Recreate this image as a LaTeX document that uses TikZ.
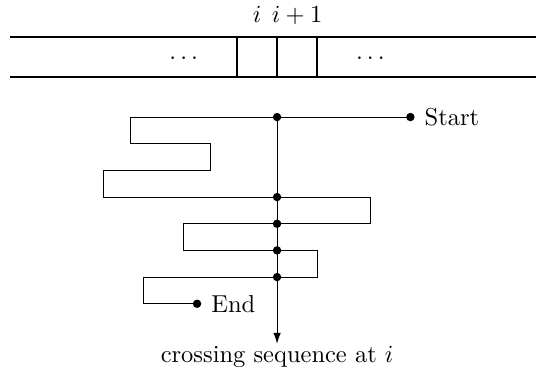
\documentclass[tikz,border=0pt]{standalone}
\usetikzlibrary{arrows.meta}
\begin{document}
\begin{tikzpicture}[x=0.4cm,y=0.4cm,
  txt/.style={scale=1.045},
  tapeline/.style={line width=0.8pt},
  dotnode/.style={circle,fill=black,inner sep=0pt,minimum size=3.6pt},
  pathline/.style={line width=0.4pt},
  lbl/.style={txt,anchor=base,inner sep=0pt}]
\useasboundingbox (-10.39,-9.41) rectangle (9.71,4.39);
% tape
\coordinate (tl) at (-10,3);
\coordinate (tr) at (10,3);
\coordinate (bl) at (-10,1.5);
\coordinate (br) at (10,1.5);
\draw[tapeline] (tl) -- (tr);
\draw[tapeline] (bl) -- (br);
\coordinate (v1t) at (-1.5,3); \coordinate (v1b) at (-1.5,1.5);
\coordinate (v2t) at (0,3);    \coordinate (v2b) at (0,1.5);
\coordinate (v3t) at (1.5,3);  \coordinate (v3b) at (1.5,1.5);
\draw[tapeline] (v1t) -- (v1b);
\draw[tapeline] (v2t) -- (v2b);
\draw[tapeline] (v3t) -- (v3b);
\node[txt] (dl) at (-3.5,2.2) {$\dots$};
\node[txt] (dr) at (3.5,2.2) {$\dots$};
\node[lbl] (li) at (-0.75,3.56) {$i$};
\node[lbl] (li1) at (0.75,3.56) {$i+1$};
% crossing points
\coordinate (s) at (5,0);
\coordinate (x0) at (0,0);
\coordinate (x1) at (0,-3);
\coordinate (x2) at (0,-4);
\coordinate (x3) at (0,-5);
\coordinate (x4) at (0,-6);
\coordinate (e) at (-3,-7);
\coordinate (arr) at (0,-8.5);
% path
\draw[pathline] (s) -- (-5.5,0) -- (-5.5,-1) -- (-2.5,-1) -- (-2.5,-2) -- (-6.5,-2) -- (-6.5,-3)
  -- (3.5,-3) -- (3.5,-4) -- (-3.5,-4) -- (-3.5,-5) -- (1.5,-5) -- (1.5,-6) -- (-5,-6) -- (-5,-7) -- (e);
\draw[pathline,-{Latex[length=4.6pt,width=3.2pt]}] (x0) -- (arr);
% dots
\node[dotnode] (ds) at (s) {};
\node[dotnode] (d0) at (x0) {};
\node[dotnode] (d1) at (x1) {};
\node[dotnode] (d2) at (x2) {};
\node[dotnode] (d3) at (x3) {};
\node[dotnode] (d4) at (x4) {};
\node[dotnode] (de) at (e) {};
\node[txt,anchor=west,xshift=2.3pt] (st) at (s) {Start};
\node[txt,anchor=west,xshift=2.3pt] (en) at (e) {End};
\node[lbl] (cs) at (0,-9.22) {crossing sequence at $i$};
\end{tikzpicture}
\end{document}
